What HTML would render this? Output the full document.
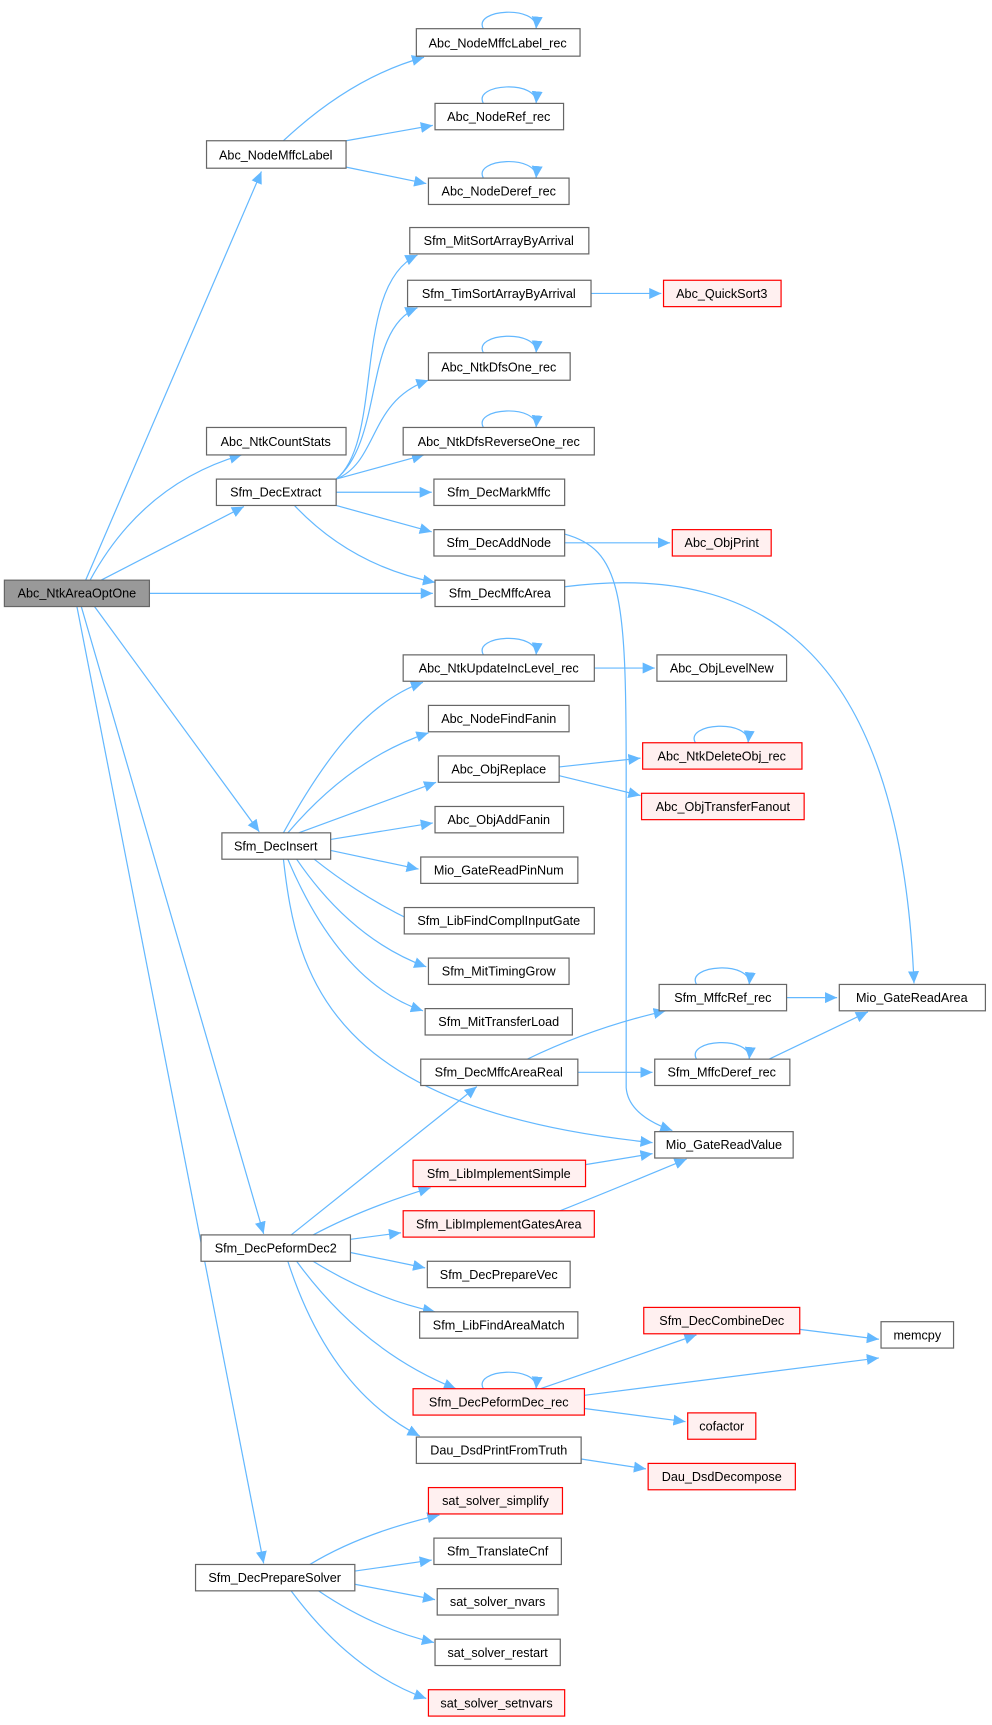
<!DOCTYPE html>
<html><head><meta charset="utf-8"><style>
html,body{margin:0;padding:0;background:#fff;}
svg{display:block;}
text{font-family:"Liberation Sans",Arial,sans-serif;font-size:11.5px;fill:#000;text-anchor:middle;}
.e{fill:none;stroke:#63b8ff;stroke-width:1.1;marker-end:url(#a);}
.n{fill:#fff;stroke:#666;stroke-width:1.1;}
.r{fill:#fff0f0;stroke:#ff0000;stroke-width:1.1;}
.m{fill:#999;stroke:#666;stroke-width:1.1;}
</style></head><body>
<svg width="992" height="1725" viewBox="0 0 903 1570" xmlns="http://www.w3.org/2000/svg">
<defs><marker id="a" markerUnits="userSpaceOnUse" markerWidth="12" markerHeight="10" refX="11" refY="5" orient="auto"><path d="M0,0 L11,5 L0,10 Z" fill="#63b8ff"/></marker></defs>
<g>
<!-- edges -->
<path class="e" d="M78,528 L238,156"/>
<path class="e" d="M82,528 Q130,440 220,414"/>
<path class="e" d="M92,528 L222,461"/>
<path class="e" d="M136,540 L394,540"/>
<path class="e" d="M86,552 L236,757"/>
<path class="e" d="M74,552 L240,1123"/>
<path class="e" d="M70,552 L240,1423"/>
<path class="e" d="M258,128 Q320,70 386,52"/>
<path class="e" d="M315,128 L394,114"/>
<path class="e" d="M315,152 L388,167"/>
<path class="e" d="M306,436 C350,400 320,260 380,232"/>
<path class="e" d="M306,436 C350,400 330,300 380,280"/>
<path class="e" d="M306,436 C345,420 335,365 390,346"/>
<path class="e" d="M306,436 L386,414"/>
<path class="e" d="M306,448 L393,448"/>
<path class="e" d="M306,460 L393,484"/>
<path class="e" d="M268,460 Q320,515 396,530"/>
<path class="e" d="M538,267 L602,267"/>
<path class="e" d="M514,494 L610,494"/>
<path class="e" d="M514,486 C565,500 570,540 570,700 L570,990 Q572,1015 612,1029"/>
<path class="e" d="M514,534 C700,510 820,600 832,895"/>
<path class="e" d="M541,608 L596,608"/>
<path class="e" d="M509,698 L583,690"/>
<path class="e" d="M509,706 L583,724"/>
<path class="e" d="M258,758 C290,700 330,640 385,621"/>
<path class="e" d="M262,758 Q320,690 390,667"/>
<path class="e" d="M272,758 L397,712"/>
<path class="e" d="M301,764 L394,749"/>
<path class="e" d="M301,774 L381,791"/>
<path class="e" d="M286,782 Q340,825 402,850"/>
<path class="e" d="M270,782 Q320,855 388,880"/>
<path class="e" d="M262,782 Q310,895 385,920"/>
<path class="e" d="M258,782 C270,890 300,1010 594,1040"/>
<path class="e" d="M716,908 L762,908"/>
<path class="e" d="M700,964 L790,921"/>
<path class="e" d="M480,964 Q540,935 606,920"/>
<path class="e" d="M526,976 L594,976"/>
<path class="e" d="M265,1124 L434,989"/>
<path class="e" d="M285,1124 Q330,1100 392,1081"/>
<path class="e" d="M319,1128 L365,1122"/>
<path class="e" d="M319,1140 L387,1154"/>
<path class="e" d="M285,1148 Q340,1182 396,1194"/>
<path class="e" d="M270,1148 Q330,1230 415,1264"/>
<path class="e" d="M262,1148 Q300,1265 382,1307"/>
<path class="e" d="M533,1060 L594,1050"/>
<path class="e" d="M510,1102 Q560,1082 625,1055"/>
<path class="e" d="M492,1264 L634,1215"/>
<path class="e" d="M532,1270 L800,1236"/>
<path class="e" d="M532,1282 L624,1294"/>
<path class="e" d="M728,1210 L800,1219"/>
<path class="e" d="M529,1328 L588,1337"/>
<path class="e" d="M282,1424 Q330,1395 400,1379"/>
<path class="e" d="M323,1430 L393,1420"/>
<path class="e" d="M323,1442 L396,1456"/>
<path class="e" d="M290,1448 Q340,1482 395,1495"/>
<path class="e" d="M265,1448 Q320,1522 388,1546"/>
<!-- self loops -->
<path class="e" d="M440,26 C430,8 490,4 488,26"/>
<path class="e" d="M440,94 C430,76 490,72 488,94"/>
<path class="e" d="M440,162 C430,144 490,140 488,162"/>
<path class="e" d="M440,321 C430,303 490,299 488,321"/>
<path class="e" d="M440,389 C430,371 490,367 488,389"/>
<path class="e" d="M440,596 C430,578 490,574 488,596"/>
<path class="e" d="M633,676 C623,658 683,654 681,676"/>
<path class="e" d="M634,896 C624,878 684,874 682,896"/>
<path class="e" d="M634,964 C624,946 684,942 682,964"/>
<path class="e" d="M440,1264 C430,1246 490,1242 488,1264"/>
</g>
<g>
<rect class="m" x="4" y="528" width="132" height="24"/><text x="70" y="544">Abc_NtkAreaOptOne</text>
<rect class="n" x="188" y="128" width="127" height="25"/><text x="251" y="145">Abc_NodeMffcLabel</text>
<rect class="n" x="379" y="26" width="149" height="25"/><text x="453" y="43">Abc_NodeMffcLabel_rec</text>
<rect class="n" x="396" y="94" width="117" height="24"/><text x="454" y="110">Abc_NodeRef_rec</text>
<rect class="n" x="390" y="162" width="128" height="24"/><text x="454" y="178">Abc_NodeDeref_rec</text>
<rect class="n" x="373" y="207" width="163" height="24"/><text x="454" y="223">Sfm_MitSortArrayByArrival</text>
<rect class="n" x="371" y="255" width="167" height="24"/><text x="454" y="271">Sfm_TimSortArrayByArrival</text>
<rect class="r" x="604" y="255" width="107" height="24"/><text x="657" y="271">Abc_QuickSort3</text>
<rect class="n" x="390" y="321" width="129" height="25"/><text x="454" y="338">Abc_NtkDfsOne_rec</text>
<rect class="n" x="188" y="389" width="127" height="25"/><text x="251" y="406">Abc_NtkCountStats</text>
<rect class="n" x="367" y="389" width="174" height="25"/><text x="454" y="406">Abc_NtkDfsReverseOne_rec</text>
<rect class="n" x="197" y="436" width="109" height="24"/><text x="251" y="452">Sfm_DecExtract</text>
<rect class="n" x="395" y="436" width="119" height="24"/><text x="454" y="452">Sfm_DecMarkMffc</text>
<rect class="n" x="395" y="482" width="119" height="24"/><text x="454" y="498">Sfm_DecAddNode</text>
<rect class="r" x="612" y="482" width="90" height="24"/><text x="657" y="498">Abc_ObjPrint</text>
<rect class="n" x="396" y="528" width="118" height="24"/><text x="455" y="544">Sfm_DecMffcArea</text>
<rect class="n" x="367" y="596" width="174" height="24"/><text x="454" y="612">Abc_NtkUpdateIncLevel_rec</text>
<rect class="n" x="598" y="596" width="118" height="24"/><text x="657" y="612">Abc_ObjLevelNew</text>
<rect class="n" x="390" y="642" width="128" height="24"/><text x="454" y="658">Abc_NodeFindFanin</text>
<rect class="n" x="399" y="688" width="110" height="24"/><text x="454" y="704">Abc_ObjReplace</text>
<rect class="r" x="585" y="676" width="145" height="24"/><text x="657" y="692">Abc_NtkDeleteObj_rec</text>
<rect class="r" x="584" y="722" width="148" height="24"/><text x="658" y="738">Abc_ObjTransferFanout</text>
<rect class="n" x="396" y="734" width="117" height="24"/><text x="454" y="750">Abc_ObjAddFanin</text>
<rect class="n" x="202" y="758" width="99" height="24"/><text x="251" y="774">Sfm_DecInsert</text>
<rect class="n" x="383" y="780" width="143" height="24"/><text x="454" y="796">Mio_GateReadPinNum</text>
<rect class="n" x="368" y="826" width="173" height="24"/><text x="454" y="842">Sfm_LibFindComplInputGate</text>
<rect class="n" x="390" y="872" width="128" height="24"/><text x="454" y="888">Sfm_MitTimingGrow</text>
<rect class="n" x="387" y="918" width="134" height="24"/><text x="454" y="934">Sfm_MitTransferLoad</text>
<rect class="n" x="600" y="896" width="116" height="24"/><text x="658" y="912">Sfm_MffcRef_rec</text>
<rect class="n" x="764" y="896" width="133" height="24"/><text x="830" y="912">Mio_GateReadArea</text>
<rect class="n" x="383" y="964" width="143" height="24"/><text x="454" y="980">Sfm_DecMffcAreaReal</text>
<rect class="n" x="596" y="964" width="123" height="24"/><text x="657" y="980">Sfm_MffcDeref_rec</text>
<rect class="n" x="596" y="1030" width="126" height="24"/><text x="659" y="1046">Mio_GateReadValue</text>
<rect class="r" x="376" y="1056" width="157" height="24"/><text x="454" y="1072">Sfm_LibImplementSimple</text>
<rect class="r" x="367" y="1102" width="174" height="24"/><text x="454" y="1118">Sfm_LibImplementGatesArea</text>
<rect class="n" x="183" y="1124" width="136" height="24"/><text x="251" y="1140">Sfm_DecPeformDec2</text>
<rect class="n" x="389" y="1148" width="130" height="24"/><text x="454" y="1164">Sfm_DecPrepareVec</text>
<rect class="n" x="382" y="1194" width="144" height="24"/><text x="454" y="1210">Sfm_LibFindAreaMatch</text>
<rect class="r" x="586" y="1190" width="142" height="24"/><text x="657" y="1206">Sfm_DecCombineDec</text>
<rect class="n" x="802" y="1203" width="66" height="24"/><text x="835" y="1219">memcpy</text>
<rect class="r" x="376" y="1264" width="156" height="24"/><text x="454" y="1280">Sfm_DecPeformDec_rec</text>
<rect class="r" x="626" y="1286" width="62" height="24"/><text x="657" y="1302">cofactor</text>
<rect class="n" x="379" y="1308" width="150" height="24"/><text x="454" y="1324">Dau_DsdPrintFromTruth</text>
<rect class="r" x="590" y="1332" width="134" height="24"/><text x="657" y="1348">Dau_DsdDecompose</text>
<rect class="r" x="390" y="1354" width="122" height="24"/><text x="451" y="1370">sat_solver_simplify</text>
<rect class="n" x="395" y="1400" width="116" height="24"/><text x="453" y="1416">Sfm_TranslateCnf</text>
<rect class="n" x="178" y="1424" width="145" height="24"/><text x="250" y="1440">Sfm_DecPrepareSolver</text>
<rect class="n" x="398" y="1446" width="110" height="24"/><text x="453" y="1462">sat_solver_nvars</text>
<rect class="n" x="396" y="1492" width="114" height="24"/><text x="453" y="1508">sat_solver_restart</text>
<rect class="r" x="390" y="1538" width="124" height="24"/><text x="452" y="1554">sat_solver_setnvars</text>
</g>
</svg>
</body></html>
